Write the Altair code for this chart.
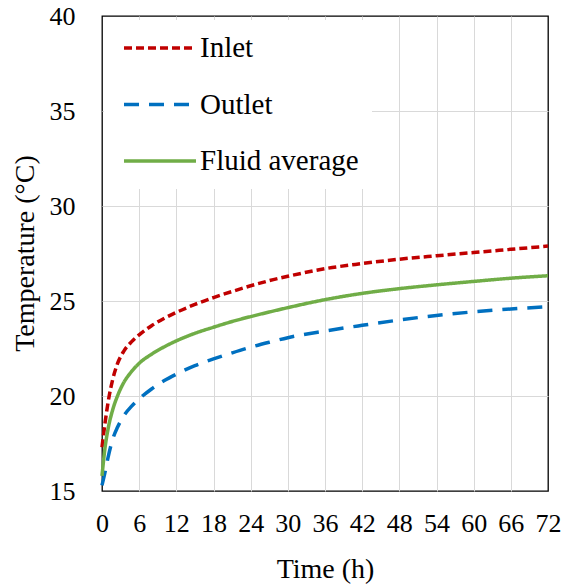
import altair as alt
import pandas as pd

# Time axis (hours) and the three temperature series (°C)
time_h = [0, 0.5, 1, 1.75, 2.5, 3.5, 4.75, 6, 8, 10, 12, 15, 18, 21, 24, 27, 30,
          36, 42, 48, 54, 60, 66, 72]
inlet = [17.3, 18.6, 19.7, 20.9, 21.7, 22.35, 22.85, 23.22, 23.7, 24.08, 24.4, 24.82,
         25.18, 25.5, 25.8, 26.07, 26.3, 26.7, 26.97, 27.2, 27.38, 27.55, 27.72, 27.89]
outlet = [15.3, 16.0, 16.8, 17.75, 18.35, 18.95, 19.45, 19.85, 20.37, 20.8, 21.15, 21.6,
          21.95, 22.27, 22.57, 22.83, 23.07, 23.42, 23.72, 24.0, 24.24, 24.43, 24.58, 24.7]
fluid_avg = [15.8, 17.3, 18.3, 19.3, 20.0, 20.7, 21.28, 21.72, 22.2, 22.58, 22.9, 23.3,
             23.62, 23.92, 24.18, 24.42, 24.65, 25.07, 25.4, 25.65, 25.85, 26.03, 26.2, 26.33]

series_names = ["Inlet", "Outlet", "Fluid average"]
series_colors = ["#C00000", "#0070C0", "#70AD47"]
series_dashes = [[8, 4], [15, 10], [1, 0]]
x_ticks = list(range(0, 73, 6))
y_ticks = [15, 20, 25, 30, 35, 40]

rows = []
for name, vals in zip(series_names, [inlet, outlet, fluid_avg]):
    for t, v in zip(time_h, vals):
        rows.append({"time": t, "temp": v, "series": name})
df = pd.DataFrame(rows)

FONT = "Liberation Serif"

legend_opts = dict(
    title=None,
    orient="none",
    legendX=2,
    legendY=4,
    fillColor="white",
    padding=13,
    symbolType="stroke",
    symbolSize=5184,
    symbolStrokeWidth=3.5,
    symbolOffset=5,
    labelOffset=2,
    clipHeight=30,
    labelFont=FONT,
    labelFontSize=29,
    labelColor="black",
    labelLimit=400,
    rowPadding=26.5,
)

grid_hide_x = {"condition": {"test": "datum.value == 0 || datum.value == 72", "value": 0}, "value": 1}
grid_hide_y = {"condition": {"test": "datum.value == 15 || datum.value == 40", "value": 0}, "value": 1}

chart = alt.Chart(df).mark_line(strokeWidth=3.5, interpolate="monotone").encode(
    x=alt.X(
        "time:Q",
        scale=alt.Scale(domain=[0, 72], nice=False, zero=False),
        axis=alt.Axis(
            values=x_ticks, title="Time (h)", format="d",
            labelPadding=19, labelOverlap=False, labelFlush=False,
            titleY=86, titleBaseline="alphabetic",
            gridOpacity=grid_hide_x,
        ),
    ),
    y=alt.Y(
        "temp:Q",
        scale=alt.Scale(domain=[15, 40], nice=False, zero=False),
        axis=alt.Axis(
            values=y_ticks, title="Temperature (°C)", format="d",
            labelPadding=27, labelOverlap=False, labelFlush=False,
            titleX=-77, titleY=237, titleAngle=-90,
            titleBaseline="middle", gridOpacity=grid_hide_y,
        ),
    ),
    color=alt.Color(
        "series:N",
        scale=alt.Scale(domain=series_names, range=series_colors),
        sort=series_names,
        legend=alt.Legend(**legend_opts),
    ),
    strokeDash=alt.StrokeDash(
        "series:N",
        scale=alt.Scale(domain=series_names, range=series_dashes),
        sort=series_names,
        legend=alt.Legend(**legend_opts),
    ),
).properties(
    width=446,
    height=475,
    background="white",
    autosize=alt.AutoSizeParams(type="none"),
    padding={"left": 102, "top": 16, "right": 13, "bottom": 95},
).configure_view(
    stroke="black", strokeWidth=1.3
).configure_axis(
    domain=False,
    ticks=False,
    tickSize=0,
    grid=True,
    gridColor="#D9D9D9",
    gridWidth=1,
    labelFont=FONT,
    labelFontSize=26,
    labelColor="black",
    titleFont=FONT,
    titleFontSize=28,
    titleFontWeight="normal",
    titleColor="black",
)

chart.save("out.html", embed_options={"renderer": "svg", "actions": False})
